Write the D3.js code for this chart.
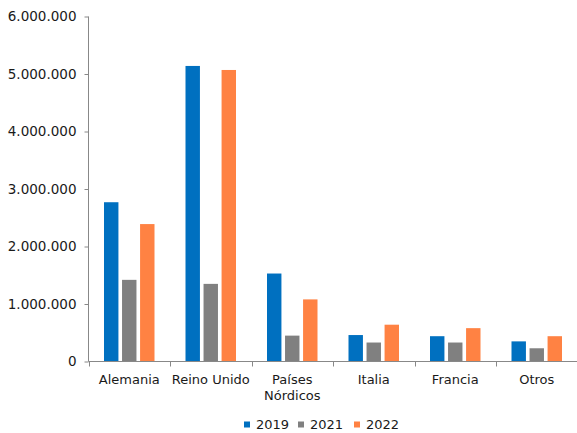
<!DOCTYPE html>
<html><head><meta charset="utf-8">
<script src="https://cdn.jsdelivr.net/npm/d3@7"></script>
<style>body{margin:0;background:#fff}svg{display:block}text{font-family:"DejaVu Sans",Verdana,sans-serif;fill:#1a1a1a}</style>
</head><body><svg id="c" width="577" height="433"></svg>
<script>
const categories = ["Alemania", "Reino Unido", "Países Nórdicos", "Italia", "Francia", "Otros"];
const categoryLines = [["Alemania"], ["Reino Unido"], ["Países", "Nórdicos"], ["Italia"], ["Francia"], ["Otros"]];
const seriesNames = ["2019", "2021", "2022"];
const values2019 = [2770000, 5140000, 1530000, 460000, 440000, 350000];
const values2021 = [1420000, 1350000, 450000, 330000, 330000, 230000];
const values2022 = [2390000, 5070000, 1080000, 640000, 580000, 440000];
const colors = ["#0070C0", "#808080", "#FF8243"];
const yTicks = [0, 1000000, 2000000, 3000000, 4000000, 5000000, 6000000];
const yTickLabels = ["0", "1.000.000", "2.000.000", "3.000.000", "4.000.000", "5.000.000", "6.000.000"];

const series = [values2019, values2021, values2022];
const svg = d3.select("#c");
const x0 = d3.scaleBand().domain(categories).range([88.5, 577.5]).paddingInner(0).paddingOuter(0);
const y = d3.scaleLinear().domain([0, 6000000]).range([361.5, 16.5]);
const groupW = 50.5;
const x1 = d3.scaleBand().domain(seriesNames).range([0, groupW]).paddingInner(0.2).paddingOuter(0);

// bars
categories.forEach((c, i) => {
  const gx = x0(c) + (x0.bandwidth() - groupW) / 2;
  seriesNames.forEach((s, j) => {
    const v = series[j][i];
    svg.append("rect")
      .attr("x", gx + x1(s))
      .attr("y", y(v))
      .attr("width", x1.bandwidth())
      .attr("height", y(0) - y(v))
      .attr("fill", colors[j]);
  });
});

// y axis
const yAxis = d3.axisLeft(y).tickValues(yTicks).tickFormat((d, i) => yTickLabels[i]).tickSize(4).tickPadding(8);
const gy = svg.append("g").attr("transform", "translate(88.5,0)").call(yAxis);
gy.select(".domain").attr("stroke", "#888").attr("d", "M0,16.5V361.5");
gy.selectAll(".tick line").attr("stroke", "#888");
gy.selectAll(".tick text").attr("font-size", 13.5).attr("font-family", "DejaVu Sans").attr("fill", "#1a1a1a");

// x axis
const gx = svg.append("g").attr("transform", "translate(0,361.5)");
gx.append("line").attr("x1", 88.5).attr("x2", 577).attr("y1", 0).attr("y2", 0).attr("stroke", "#888");
categories.forEach((c, i) => {
  const xb = Math.round(x0(c)) + 0.5;
  gx.append("line").attr("x1", xb).attr("x2", xb).attr("y1", 0).attr("y2", 5).attr("stroke", "#888");
  const t = gx.append("text").attr("text-anchor", "middle").attr("font-size", 13)
    .attr("x", x0(c) + x0.bandwidth() / 2).attr("y", 22);
  categoryLines[i].forEach((ln, k) => {
    t.append("tspan").attr("x", x0(c) + x0.bandwidth() / 2).attr("dy", k === 0 ? 0 : 16.5).text(ln);
  });
});

// legend
const legX = [244, 298, 354];
seriesNames.forEach((s, j) => {
  svg.append("rect").attr("x", legX[j]).attr("y", 421.5).attr("width", 6).attr("height", 6).attr("fill", colors[j]);
  svg.append("text").attr("x", legX[j] + 12).attr("y", 429).attr("font-size", 13).text(s);
});
</script></body></html>
